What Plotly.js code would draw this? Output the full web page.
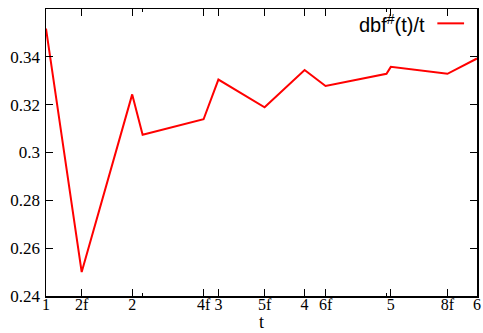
<!DOCTYPE html>
<html>
<head>
<meta charset="utf-8">
<script src="https://cdn.plot.ly/plotly-3.0.1.min.js"></script>
<style>html,body{margin:0;padding:0;background:#fff;}#chart{width:483px;height:333px;}</style>
</head>
<body>
<div id="chart"></div>
<script>
// data
var tValues = [1, 1.414, 2, 2.121, 2.828, 3, 3.536, 4, 4.243, 4.950, 5, 5.657, 6];
var dbfOverT = [0.3518, 0.2500, 0.3243, 0.3074, 0.3139, 0.3305, 0.3189, 0.3345, 0.3278, 0.3329, 0.3358, 0.3329, 0.3393];
var xTickVals = [1, 1.414, 2, 2.828, 3, 3.536, 4, 4.243, 5, 5.657, 6];
var xTickText = ['1', '2f', '2', '4f', '3', '5f', '4', '6f', '5', '8f', '6'];
var xMinorTickVals = [2.121, 4.950];
var yTickVals = [0.24, 0.26, 0.28, 0.30, 0.32, 0.34, 0.36];
var yTickText = ['0.24', '0.26', '0.28', '0.3', '0.32', '0.34', '0.36'];
var seriesName = 'dbf<sup>#</sup>(t)/t';
var xTitle = 't';

var serif = 'Liberation Serif, Times New Roman, serif';
var sans = 'Liberation Sans, Arial, sans-serif';

var trace = {
  x: tValues, y: dbfOverT, mode: 'lines', type: 'scatter',
  line: {color: '#ff0000', width: 2}, showlegend: false, hoverinfo: 'skip'
};

var layout = {
  width: 483, height: 333,
  margin: {l: 46, r: 6, t: 9, b: 37},
  paper_bgcolor: '#fff', plot_bgcolor: '#fff',
  showlegend: false,
  xaxis: {
    range: [1, 6], tickmode: 'array', tickvals: xTickVals, ticktext: xTickText,
    ticks: 'inside', ticklen: 7, tickwidth: 1, tickcolor: '#000',
    minor: {tickmode: 'array', tickvals: xMinorTickVals, ticks: 'inside', ticklen: 3, tickwidth: 1, tickcolor: '#000', showgrid: false},
    showline: true, linecolor: '#000', linewidth: 1.5, mirror: 'allticks',
    showgrid: false, zeroline: false, ticklabelstandoff: -7,
    tickfont: {family: serif, size: 16, color: '#000'}
  },
  yaxis: {
    range: [0.24, 0.36], tickmode: 'array', tickvals: yTickVals, ticktext: yTickText,
    ticks: 'inside', ticklen: 7, tickwidth: 1, tickcolor: '#000',
    showline: true, linecolor: '#000', linewidth: 1.5, mirror: 'allticks',
    showgrid: false, zeroline: false, ticklabelstandoff: 1,
    tickfont: {family: serif, size: 17, color: '#000'}
  },
  annotations: [{
    xref: 'paper', yref: 'paper', x: 0.885, y: 0.95, xanchor: 'right', yanchor: 'middle',
    text: seriesName, showarrow: false, font: {family: sans, size: 20, color: '#000'}
  }, {
    xref: 'paper', yref: 'paper', x: 0.5, y: 0, xanchor: 'center', yanchor: 'top', yshift: -15,
    text: xTitle, showarrow: false, font: {family: serif, size: 18, color: '#000'},
    borderpad: 0
  }],
  shapes: [{
    type: 'line', xref: 'paper', yref: 'paper', x0: 0.908, x1: 0.97, y0: 0.95, y1: 0.95,
    line: {color: '#ff0000', width: 2}
  }]
};

Plotly.newPlot('chart', [trace], layout, {staticPlot: true, displayModeBar: false});
</script>
</body>
</html>
